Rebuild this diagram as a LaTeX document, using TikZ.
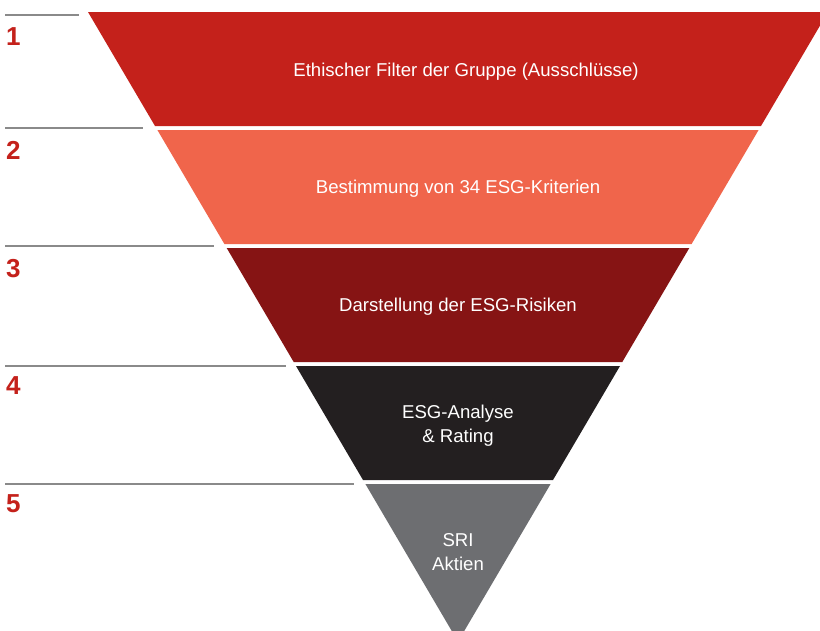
\documentclass[tikz,border=0pt]{standalone}
\usepackage{fontspec}
\setmainfont{Liberation Sans}
\usepackage{tikz}

\definecolor{bandone}{HTML}{C4211B}
\definecolor{bandtwo}{HTML}{F0654B}
\definecolor{bandthree}{HTML}{861414}
\definecolor{bandfour}{HTML}{231F20}
\definecolor{bandfive}{HTML}{6D6E71}
\definecolor{rulegrey}{HTML}{8A8A8A}

\tikzset{
  bandtext/.style={text=white, align=center, font=\fontsize{18.6}{24}\selectfont},
  stepnum/.style={anchor=west, text=bandone, inner sep=0pt, font=\fontsize{26}{26}\selectfont\bfseries},
  steprule/.style={draw=rulegrey, line width=1.2pt}
}

\begin{document}
\begin{tikzpicture}[x=1pt,y=-1pt]
\useasboundingbox (0,0) rectangle (820,630);
\fill[white] (0,0) rectangle (820,630);
% the funnel, top to bottom
\fill[bandone] (88,12) -- (828,12) -- (761,126) -- (155,126) -- cycle;
\fill[bandtwo] (157.4,130) -- (758.6,130) -- (691.6,244) -- (224.4,244) -- cycle;
\fill[bandthree] (226.7,248) -- (689.3,248) -- (622.3,362) -- (293.7,362) -- cycle;
\fill[bandfour] (296,366) -- (620,366) -- (553,480) -- (363,480) -- cycle;
\fill[bandfive] (365.4,484) -- (550.6,484) -- (458,641.6) -- cycle;
\node[bandtext] (filter) at (466,72) {Ethischer Filter der Gruppe (Ausschlüsse)};
\node[bandtext] (kriterien) at (458,189) {Bestimmung von 34 ESG-Kriterien};
\node[bandtext] (risiken) at (458,307) {Darstellung der ESG-Risiken};
\node[bandtext] (analyse) at (458,426) {ESG-Analyse\\\& Rating};
\node[bandtext] (aktien) at (458,552) {SRI\\Aktien};
% step rules and numbers on the left
\draw[steprule] (5,15) -- (79,15);
\draw[steprule] (5,128) -- (143,128);
\draw[steprule] (5,246) -- (214,246);
\draw[steprule] (5,366) -- (286,366);
\draw[steprule] (5,484) -- (354,484);
\node[stepnum] (one) at (6,37) {1};
\node[stepnum] (two) at (6,150) {2};
\node[stepnum] (three) at (6,269) {3};
\node[stepnum] (four) at (6,386) {4};
\node[stepnum] (five) at (6,504) {5};
\end{tikzpicture}
\end{document}
